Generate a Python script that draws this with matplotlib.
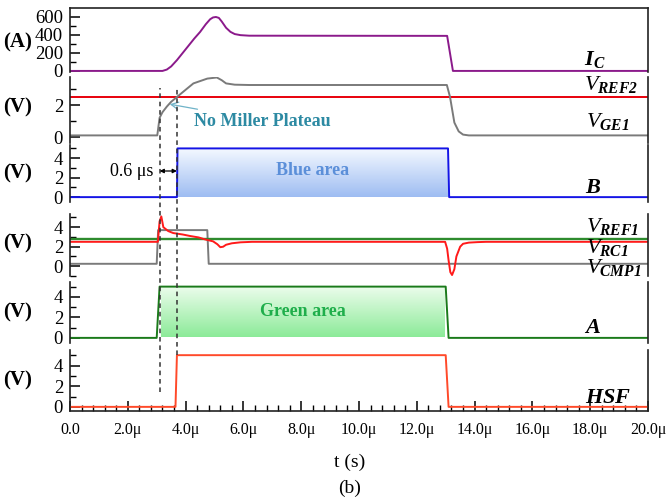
import numpy as np
import matplotlib
matplotlib.use('Agg')
import matplotlib.pyplot as plt
from matplotlib.ticker import MultipleLocator, FixedLocator, FixedFormatter

plt.rcParams['font.family'] = ['Liberation Serif', 'DejaVu Serif']
plt.rcParams['mathtext.fontset'] = 'custom'
plt.rcParams['mathtext.rm'] = 'Liberation Serif'
plt.rcParams['mathtext.it'] = 'Liberation Serif:italic'
plt.rcParams['mathtext.bf'] = 'Liberation Serif:bold'
plt.rcParams['mathtext.bfit'] = 'Liberation Serif:italic:bold'

# ---------------- data (time in microseconds) ----------------
t_ic = [0, 3.2, 3.35, 3.5, 3.7, 3.9, 4.1, 4.3, 4.5, 4.7, 4.85, 4.95, 5.05, 5.15, 5.25,
        5.4, 5.55, 5.7, 5.9, 6.2, 13.05, 13.25, 20]
ic = [0, 0, 15, 50, 120, 200, 280, 360, 433, 520, 575, 595, 600, 590, 550,
      480, 435, 410, 398, 392, 390, 0, 0]

t_vge = [0, 3.02, 3.1, 3.2, 3.35, 3.5, 3.7, 4.0, 4.27, 4.75, 5.08, 5.25, 5.4, 5.7, 6.2,
         13.04, 13.15, 13.3, 13.45, 13.6, 13.8, 20]
vge = [0.1, 0.1, 1.2, 1.55, 1.9, 2.2, 2.5, 2.95, 3.35, 3.65, 3.72, 3.55, 3.35, 3.27, 3.25,
       3.25, 2.5, 0.9, 0.35, 0.15, 0.1, 0.1]
vref2 = 2.5

t_b = [0, 3.7, 3.72, 13.08, 13.12, 20]
b = [0, 0, 5, 5, 0, 0]

t_vcmp = [0, 3.0, 3.05, 4.75, 4.8, 20]
vcmp = [0.25, 0.25, 3.7, 3.7, 0.25, 0.25]

t_vrc = [0, 3.04, 3.1, 3.16, 3.23, 3.4, 3.57, 3.9, 4.15, 4.45, 4.67, 4.95, 5.1, 5.2, 5.3,
         5.4, 5.6, 5.9, 6.3, 12.98, 13.05, 13.1, 13.16, 13.22, 13.3, 13.37, 13.5, 13.6,
         13.8, 14.1, 14.4, 20]
vrc = [2.5, 2.5, 4.6, 5.1, 4.0, 3.6, 3.4, 3.25, 3.1, 2.95, 2.75, 2.55, 2.25, 1.95, 2.0,
       2.2, 2.35, 2.45, 2.5, 2.5, 1.8, 0.6, -0.6, -0.9, -0.3, 1.0, 2.0, 2.3,
       2.42, 2.47, 2.5, 2.5]
vref1 = 2.8

t_a = [0, 3.0, 3.1, 13.0, 13.1, 20]
a = [0, 0, 5, 5, 0, 0]

t_hsf = [0, 3.65, 3.7, 13.0, 13.1, 20]
hsf = [0, 0, 5, 5, 0, 0]

blue_area = (3.72, 13.08, 0.0, 4.9)
green_area = (3.15, 12.95, 0.05, 4.85)
dash_times = [3.1, 3.7]

xticks = [0, 2, 4, 6, 8, 10, 12, 14, 16, 18, 20]
xticklabels = ['0.0', '2.0μ', '4.0μ', '6.0μ', '8.0μ', '10.0μ', '12.0μ',
               '14.0μ', '16.0μ', '18.0μ', '20.0μ']

# ---------------- layout ----------------
W, H = 666, 504
fig = plt.figure(figsize=(W / 100, H / 100), dpi=100)
fig.patch.set_facecolor('white')

L, R = 70, 648
panels = [(8, 72), (77, 143), (145, 202), (214, 276), (282, 343), (350, 411)]
ylims = [(-12, 700), (-0.375, 3.75), (-0.5, 5.35), (-1.0, 5.35), (-0.5, 5.45), (-0.4, 5.5)]

axes = []
for i, (top, bot) in enumerate(panels):
    ax = fig.add_axes([L / W, 1 - bot / H, (R - L) / W, (bot - top) / H])
    ax.set_xlim(0, 20)
    ax.set_ylim(*ylims[i])
    ax.patch.set_alpha(0)
    for s in ['left', 'right', 'top', 'bottom']:
        ax.spines[s].set_linewidth(1.2)
        ax.spines[s].set_color('#222222')
    ax.spines['top'].set_visible(i == 0)
    ax.spines['bottom'].set_visible(i == len(panels) - 1)
    ax.tick_params(axis='y', which='major', direction='in', length=7, width=1.1,
                   labelsize=13.5, pad=5, right=False)
    ax.tick_params(axis='y', which='minor', direction='in', length=4, width=1.0, right=False)
    if i < len(panels) - 1:
        ax.tick_params(axis='x', which='both', bottom=False, labelbottom=False)
    axes.append(ax)

ax1, ax2, ax3, ax4, ax5, ax6 = axes
lw = 1.4

# Panel 1: IC
ax1.plot(t_ic, ic, color='#8b1a8b', lw=lw)
ax1.yaxis.set_major_locator(FixedLocator([0, 200, 400, 600]))
ax1.yaxis.set_minor_locator(FixedLocator([100, 300, 500]))

# Panel 2: VGE, VREF2
ax2.axhline(vref2, color='#e8000b', lw=lw)
ax2.plot(t_vge, vge, color='#7a7a7a', lw=lw)
ax2.yaxis.set_major_locator(FixedLocator([0, 2]))
ax2.yaxis.set_minor_locator(FixedLocator([1, 3]))

# Panel 3: B
top_b, bot_b = np.array([0.95, 0.97, 1.0]), np.array([0.62, 0.74, 0.95])
grad_b = top_b + np.linspace(0, 1, 64)[:, None, None] * (bot_b - top_b)
ax3.imshow(grad_b, extent=list(blue_area), aspect='auto', interpolation='bilinear', zorder=0.5)
ax3.plot(t_b, b, color='#1414e6', lw=lw, zorder=2)
ax3.set_xlim(0, 20); ax3.set_ylim(*ylims[2])
ax3.yaxis.set_major_locator(FixedLocator([0, 2, 4]))
ax3.yaxis.set_minor_locator(FixedLocator([1, 3, 5]))
ax3.text(0.5 * (blue_area[0] + blue_area[1]), 2.7, 'Blue area', color='#5b8fd9',
         fontsize=13, fontweight='bold', ha='center', va='center')

# Panel 4: VREF1, VRC1, VCMP1
ax4.plot(t_vcmp, vcmp, color='#7a7a7a', lw=lw)
ax4.axhline(vref1, color='#2e8b2e', lw=lw + 0.3)
ax4.plot(t_vrc, vrc, color='#ff1a1a', lw=lw)
ax4.yaxis.set_major_locator(FixedLocator([0, 2, 4]))
ax4.yaxis.set_minor_locator(FixedLocator([-1, 1, 3, 5]))

# Panel 5: A
top_g, bot_g = np.array([0.92, 0.99, 0.92]), np.array([0.55, 0.92, 0.60])
grad_g = top_g + np.linspace(0, 1, 64)[:, None, None] * (bot_g - top_g)
ax5.imshow(grad_g, extent=list(green_area), aspect='auto', interpolation='bilinear', zorder=0.5)
ax5.plot(t_a, a, color='#1a7a1a', lw=lw, zorder=2)
ax5.set_xlim(0, 20); ax5.set_ylim(*ylims[4])
ax5.yaxis.set_major_locator(FixedLocator([0, 2, 4]))
ax5.yaxis.set_minor_locator(FixedLocator([1, 3, 5]))
ax5.text(0.5 * (green_area[0] + green_area[1]), 2.6, 'Green area', color='#1fae4b',
         fontsize=13, fontweight='bold', ha='center', va='center')

# Panel 6: HSF
ax6.plot(t_hsf, hsf, color='#ff4a2a', lw=lw)
ax6.yaxis.set_major_locator(FixedLocator([0, 2, 4]))
ax6.yaxis.set_minor_locator(FixedLocator([1, 3, 5]))
ax6.xaxis.set_major_locator(FixedLocator(xticks))
ax6.xaxis.set_major_formatter(FixedFormatter(xticklabels))
ax6.xaxis.set_minor_locator(MultipleLocator(0.4))
ax6.tick_params(axis='x', which='major', direction='in', length=7, width=1.1,
                labelsize=11.5, pad=8, top=False)
ax6.tick_params(axis='x', which='minor', direction='in', length=4, width=1.0, top=False)

# Overlay for dashed lines and annotations
ov = fig.add_axes([L / W, 0, (R - L) / W, 1], zorder=10)
ov.set_xlim(0, 20); ov.set_ylim(0, 1)
ov.axis('off')
ov.patch.set_alpha(0)
ov.vlines(dash_times[0], 1 - 392 / H, 1 - 88 / H, colors='#333333', linestyles=(0, (3, 2.5)), lw=1.1)
ov.vlines(dash_times[1], 1 - 355 / H, 1 - 88 / H, colors='#333333', linestyles=(0, (3, 2.5)), lw=1.1)

# 0.6 us annotation
ov.annotate('', xy=(dash_times[1], 1 - 171 / H), xytext=(dash_times[0], 1 - 171 / H),
            arrowprops=dict(arrowstyle='<|-|>', color='black', lw=0.9,
                            mutation_scale=6, shrinkA=0, shrinkB=0))
fig.text(153 / W, 1 - 171 / H, '0.6 μs', fontsize=13, ha='right', va='center')

# No Miller Plateau
ax2.annotate('No Miller Plateau', xy=(3.45, 2.05), xytext=(4.3, 1.0),
             color='#2d8aa3', fontsize=13, fontweight='bold', ha='left', va='center',
             arrowprops=dict(arrowstyle='->', color='#6fb3c8', lw=0.9, shrinkA=2, shrinkB=0))

# Left unit labels
left_labels = [('(A)', 42), ('(V)', 107), ('(V)', 173), ('(V)', 243), ('(V)', 312), ('(V)', 380)]
for txt, yy in left_labels:
    fig.text(18 / W, 1 - yy / H, txt, fontsize=15, fontweight='bold', ha='center', va='center')

# Right signal labels
right_labels = [
    (r'$\mathbfit{I}_{\mathbfit{C}}$', 584, 65),
    (r'$\mathit{V}_{\mathbfit{REF2}}$', 584, 90),
    (r'$\mathit{V}_{\mathbfit{GE1}}$', 586, 127),
    (r'$\mathbfit{B}$', 585, 193),
    (r'$\mathit{V}_{\mathbfit{REF1}}$', 586, 232),
    (r'$\mathit{V}_{\mathbfit{RC1}}$', 586, 253),
    (r'$\mathit{V}_{\mathbfit{CMP1}}$', 586, 273),
    (r'$\mathbfit{A}$', 584, 333),
    (r'$\mathbfit{HSF}$', 585, 403),
]
for txt, xx, yy in right_labels:
    fig.text(xx / W, 1 - yy / H, txt, fontsize=16, ha='left', va='baseline')

fig.text(350 / W, 1 - 462 / H, 't (s)', fontsize=14, ha='center', va='center')
fig.text(350 / W, 1 - 488 / H, '(b)', fontsize=14, ha='center', va='center')

fig.savefig('out.png', dpi=100, facecolor='white')
